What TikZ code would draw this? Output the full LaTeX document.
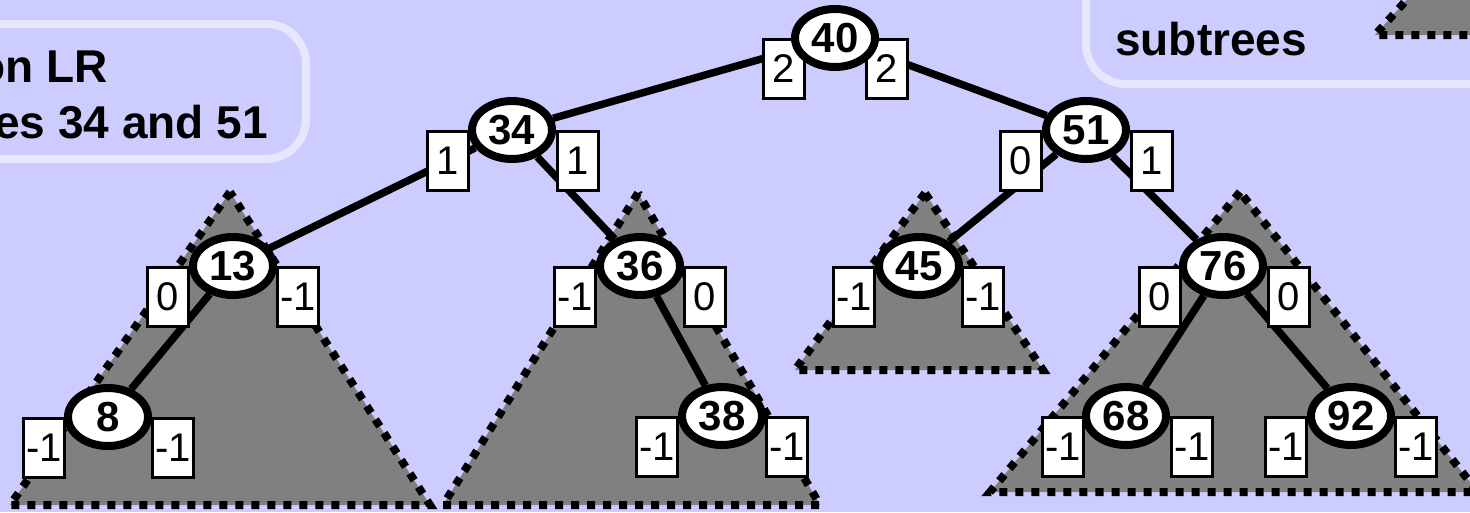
\documentclass[tikz,border=0pt]{standalone}
\usepackage{fontspec}
\setmainfont{Liberation Sans}
\usepackage{tikz}
\usetikzlibrary{shapes.geometric, positioning, backgrounds}
\definecolor{slidebg}{HTML}{CCCCFF}
\definecolor{panelrim}{HTML}{E6E6FF}
\definecolor{treegray}{HTML}{808080}

\begin{document}
\begin{tikzpicture}[x=1pt, y=-1pt,
  key/.style={draw, ellipse, fill=white, line width=8pt, minimum width=80pt, minimum height=58pt, inner sep=0pt, font=\fontsize{42}{42}\selectfont\bfseries},
  bal/.style={draw, fill=white, line width=3pt, minimum width=41pt, minimum height=59pt, inner sep=0pt, font=\fontsize{40}{40}\selectfont},
  link/.style={line width=7.5pt},
  subtree/.style={fill=treegray, draw=black, line width=8pt, dash pattern=on 8pt off 8pt},
  panel/.style={draw=panelrim, line width=8pt, rounded corners=40pt},
  caption/.style={font=\fontsize{46}{46}\selectfont\bfseries, inner sep=0pt},
]
  \useasboundingbox (0,0) rectangle (1470,512);

  % where the keys sit
  \coordinate (c40) at (835,38);
  \coordinate (c34) at (512,130);
  \coordinate (c51) at (1086,130);
  \coordinate (c13) at (233,266);
  \coordinate (c36) at (640,266);
  \coordinate (c45) at (919,266);
  \coordinate (c76) at (1223,266);
  \coordinate (c8) at (108,417);
  \coordinate (c38) at (722,416);
  \coordinate (c68) at (1126,416);
  \coordinate (c92) at (1351,416);

  % balance boxes
  \node[bal, below left=0pt and 29.5pt of c40] (b40l) {2};
  \node[bal, below right=0pt and 29.5pt of c40] (b40r) {2};
  \node[bal, below left=0pt and 42.5pt of c34] (b34l) {1};
  \node[bal, below right=0pt and 44pt of c34] (b34r) {1};
  \node[bal, below left=0pt and 43pt of c51] (b51l) {0};
  \node[bal, below right=0pt and 44pt of c51] (b51r) {1};
  \node[bal, below left=0pt and 43pt of c13] (b13l) {0};
  \node[bal, below right=0pt and 43pt of c13] (b13r) {-1};
  \node[bal, below left=0pt and 43pt of c36] (b36l) {-1};
  \node[bal, below right=0pt and 43pt of c36] (b36r) {0};
  \node[bal, below left=0pt and 43pt of c45] (b45l) {-1};
  \node[bal, below right=0pt and 42pt of c45] (b45r) {-1};
  \node[bal, below left=0pt and 41pt of c76] (b76l) {0};
  \node[bal, below right=0pt and 44pt of c76] (b76r) {0};
  \node[bal, below left=0pt and 42pt of c8] (b8l) {-1};
  \node[bal, below right=0pt and 43pt of c8] (b8r) {-1};
  \node[bal, below left=0pt and 43pt of c38] (b38l) {-1};
  \node[bal, below right=0pt and 43pt of c38] (b38r) {-1};
  \node[bal, below left=0pt and 41pt of c68] (b68l) {-1};
  \node[bal, below right=0pt and 44pt of c68] (b68r) {-1};
  \node[bal, below left=0pt and 43pt of c92] (b92l) {-1};
  \node[bal, below right=0pt and 43pt of c92] (b92r) {-1};

  % keys
  \node[key] (n40) at (c40) {40};
  \node[key] (n34) at (c34) {34};
  \node[key] (n51) at (c51) {51};
  \node[key] (n13) at (c13) {13};
  \node[key] (n36) at (c36) {36};
  \node[key] (n45) at (c45) {45};
  \node[key] (n76) at (c76) {76};
  \node[key] (n8) at (c8) {8};
  \node[key] (n38) at (c38) {38};
  \node[key] (n68) at (c68) {68};
  \node[key] (n92) at (c92) {92};

  % captions
  \node[caption, anchor=base east] (capa) at (108,82) {on LR};
  \node[caption, anchor=base east] (capb) at (268,138) {es 34 and 51};
  \node[caption, anchor=base west] (capc) at (1115,55) {subtrees};

  \begin{scope}[on background layer]
    \fill[slidebg] (0,0) rectangle (1470,512);
    \draw[panel] (-60,24) rectangle (306,159);
    \draw[panel] (1086,-60) rectangle (1560,84);
    % subtrees
    \draw[subtree] (1447,-45) -- (1375,35) -- (1519,35) -- cycle;
    \draw[subtree] (230,192) -- (10,505) -- (430,505) -- cycle;
    \draw[subtree] (638,193) -- (443,505) -- (820,505) -- cycle;
    \draw[subtree] (925,193) -- (795,370) -- (1043,370) -- cycle;
    \draw[subtree] (1240,192) -- (990,492) -- (1478,492) -- cycle;
    % links
    \draw[link] (n40) -- (n34);
    \draw[link] (n40) -- (n51);
    \draw[link] (n34) -- (n13);
    \draw[link] (n34) -- (n36);
    \draw[link] (n51) -- (n45);
    \draw[link] (n51) -- (n76);
    \draw[link] (n13) -- (n8);
    \draw[link] (n36) -- (n38);
    \draw[link] (n76) -- (n68);
    \draw[link] (n76) -- (n92);
  \end{scope}
\end{tikzpicture}
\end{document}
